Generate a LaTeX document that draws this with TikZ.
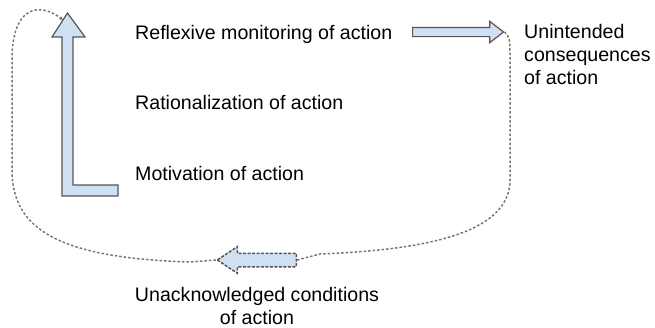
\documentclass[tikz,border=0pt]{standalone}
\usepackage{fontspec}
\setmainfont{Liberation Sans}
\usetikzlibrary{shapes.arrows, arrows.meta}
\definecolor{cFill}{HTML}{CFE0F3}
\definecolor{cEdge}{HTML}{555555}
\definecolor{cLoop}{HTML}{777777}
\tikzset{
  blockarrow/.style={
    single arrow, draw=cEdge, fill=cFill,
    line width=1.2pt,
    inner xsep=0pt,
    single arrow head indent=0pt
  },
  loopline/.style={
    draw=cLoop, line width=1.5pt,
    dash pattern=on 2.5pt off 2pt
  },
  txt/.style={
    inner sep=0pt,
    font=\fontsize{19.6}{23}\selectfont,
    align=left
  }
}

\begin{document}
\begin{tikzpicture}[x=1pt, y=-1pt]
  \useasboundingbox (0,0) rectangle (655,327);

  % L-shaped arrow on the left
  \coordinate (ltip) at (67.5,13);
  \coordinate (lhit) at (63,20);
  \draw[draw=cEdge, fill=cFill, line width=1.2pt]
    (52,37) -- (ltip) -- (85,37) -- (73,37) -- (73,185) -- (118,185)
    -- (118,196) -- (62,196) -- (62,37) -- cycle;

  % straight arrows
  \node[blockarrow, anchor=tail, inner ysep=4pt, single arrow head extend=6pt,
        single arrow tip angle=75, minimum height=91pt] (monit) at (412,32) {};
  \node[blockarrow, dash pattern=on 3pt off 1.5pt, line width=1.5pt, anchor=tail,
        shape border rotate=180, inner ysep=6pt, single arrow head extend=6.5pt,
        single arrow tip angle=67, minimum height=79pt] (ackn) at (297,260) {};

  % texts
  \node[txt, anchor=base west] (refl) at (135,39) {Reflexive monitoring of action};
  \node[txt, anchor=base west] (ratio) at (135,109) {Rationalization of action};
  \node[txt, anchor=base west] (motiv) at (135,180) {Motivation of action};
  \node[txt, anchor=base west] (unint) at (524,84) {Unintended\\consequences\\of action};
  \node[txt, anchor=base, align=center] (uncond) at (257,324) {Unacknowledged conditions\\of action};

  % dashed loops
  \draw[loopline, -{Stealth[length=4pt,width=4pt]}] (ackn.tip) -- (190,262)
    .. controls (60,258) and (12,230) .. (12,170) -- (12,60)
    .. controls (12,5) and (40,2) .. (lhit);
  \draw[loopline] (ackn.tail) -- (320,254)
    .. controls (420,250) and (510,235) .. (510,180) -- (510,60)
    .. controls (510,38) .. (monit.tip);
\end{tikzpicture}
\end{document}
